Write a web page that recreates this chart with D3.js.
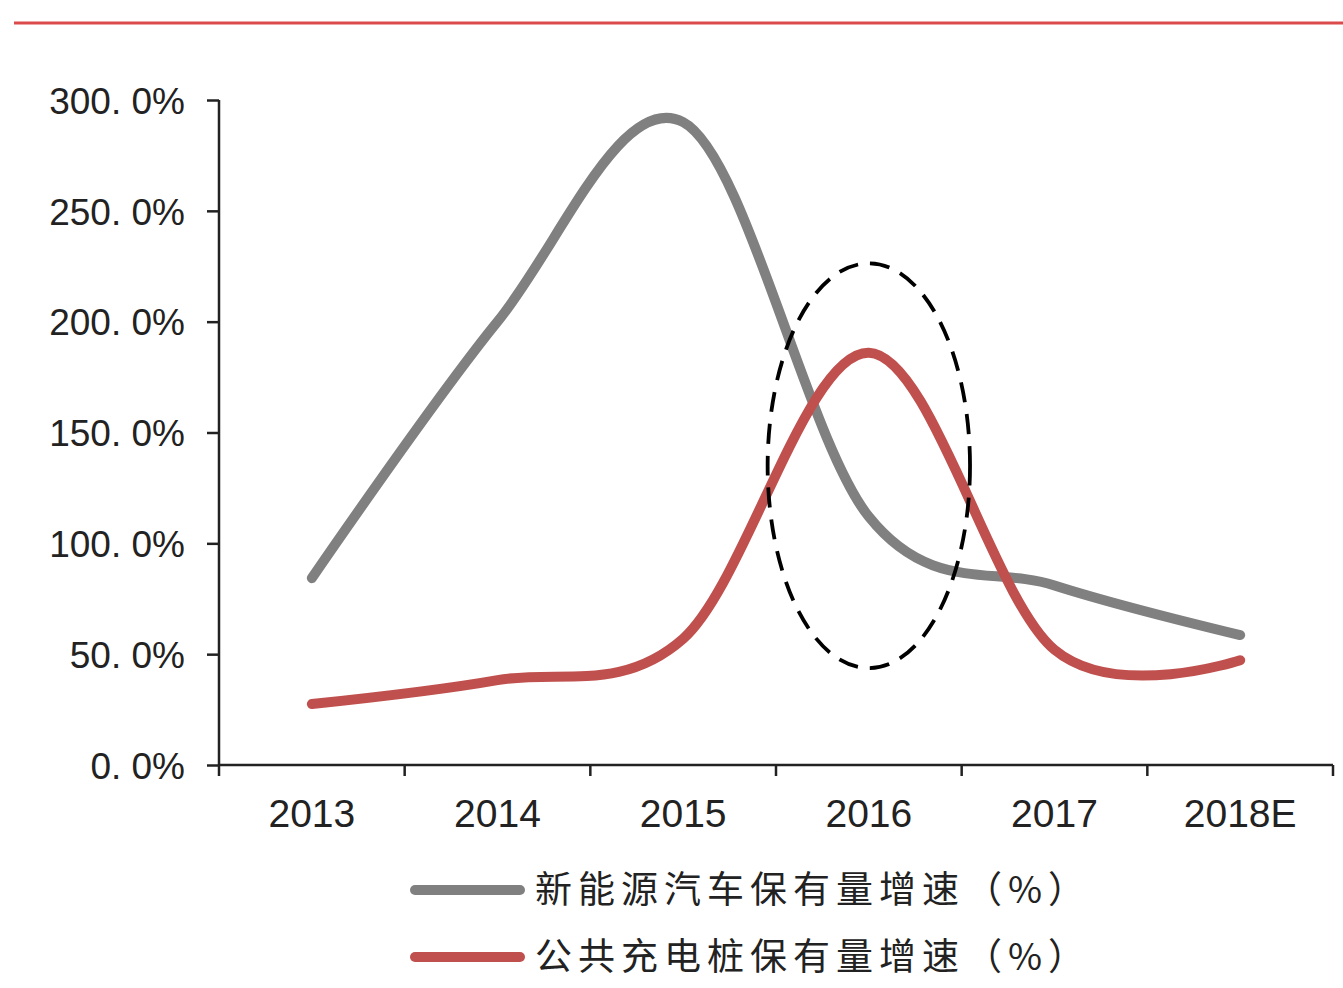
<!DOCTYPE html>
<html><head><meta charset="utf-8">
<script src="https://cdn.jsdelivr.net/npm/d3@7"></script>
<style>body{margin:0;background:#fff}svg{display:block}</style>
</head><body>
<svg id="c" width="1343" height="988"></svg>
<script>
const categories = ["2013","2014","2015","2016","2017","2018E"];
const evGrowth = [84.3, 200, 290, 112, 81, 58.6];
const pileGrowth = [27.5, 38.3, 57, 186, 52, 47.3];
const yTicks = [0, 50, 100, 150, 200, 250, 300];
const seriesNames = ["新能源汽车保有量增速（%）", "公共充电桩保有量增速（%）"];
const seriesColors = ["#808080", "#c0504d"];
const highlight = {cat: "2016", top: 226.3, bottom: 43.7, halfBands: 0.545};

const svg = d3.select("#c");
const W = 1343, H = 988;
const x = d3.scaleBand().domain(categories).range([219, 1333]).padding(0);
const y = d3.scaleLinear().domain([0, 300]).range([765, 100]);
const cx = d => x(d) + x.bandwidth()/2;

// top red rule
svg.append("line").attr("x1", 14).attr("x2", W).attr("y1", 23).attr("y2", 23)
  .attr("stroke", "#dc4b4b").attr("stroke-width", 3);

// y axis
const yAxis = d3.axisLeft(y).tickValues(yTicks).tickSize(12).tickPadding(22)
  .tickFormat(d => d3.format(".1f")(d).replace(".", ". ") + "%");
const gy = svg.append("g").attr("transform", "translate(219,0)").call(yAxis);
gy.select(".domain").attr("stroke", "#222").attr("stroke-width", 2.5).attr("d", "M0,100V765");
gy.selectAll(".tick line").attr("stroke", "#222").attr("stroke-width", 2.5);
gy.selectAll(".tick text").attr("font-family", "Liberation Sans, Arial, sans-serif")
  .attr("font-size", 37).attr("fill", "#222").attr("dy", "0.36em");

// x axis
const gx = svg.append("g").attr("transform", "translate(0,765)");
gx.append("line").attr("x1", 219).attr("x2", 1333).attr("stroke", "#222").attr("stroke-width", 2.5);
const bounds = categories.map(c => x(c)).concat([1333]);
gx.selectAll(".tk").data(bounds).join("line").attr("class","tk")
  .attr("x1", d => d).attr("x2", d => d).attr("y1", 0).attr("y2", 11)
  .attr("stroke", "#222").attr("stroke-width", 2.5);
gx.selectAll(".lb").data(categories).join("text").attr("class","lb")
  .attr("x", d => cx(d)).attr("y", 48).attr("dy", "0.36em").attr("text-anchor", "middle")
  .attr("font-family", "Liberation Sans, Arial, sans-serif").attr("font-size", 39).attr("fill", "#222")
  .text(d => d);

// lines
const line = d3.line().x((d, i) => cx(categories[i])).y(d => y(d)).curve(d3.curveCardinal.tension(0));
[evGrowth, pileGrowth].forEach((s, k) => {
  svg.append("path").attr("d", line(s)).attr("fill", "none")
    .attr("stroke", seriesColors[k]).attr("stroke-width", 10)
    .attr("stroke-linecap", "round").attr("stroke-linejoin", "round");
});

// dashed ellipse highlight
svg.append("ellipse")
  .attr("cx", cx(highlight.cat))
  .attr("cy", (y(highlight.top) + y(highlight.bottom)) / 2)
  .attr("rx", x.bandwidth() * highlight.halfBands)
  .attr("ry", (y(highlight.bottom) - y(highlight.top)) / 2)
  .attr("fill", "none").attr("stroke", "#000").attr("stroke-width", 3.8)
  .attr("stroke-dasharray", "20,12");

// legend
const lg = svg.append("g");
seriesNames.forEach((n, k) => {
  const yy = 890 + k * 67;
  lg.append("line").attr("x1", 415).attr("x2", 520).attr("y1", yy).attr("y2", yy)
    .attr("stroke", seriesColors[k]).attr("stroke-width", 10).attr("stroke-linecap", "round");
  lg.append("text").attr("x", 535).attr("y", yy).attr("dy", "0.36em")
    .attr("font-family", "Noto Sans CJK SC, sans-serif").attr("font-size", 37)
    .attr("letter-spacing", 6).attr("fill", "#222").text(n);
});
</script>
</body></html>
